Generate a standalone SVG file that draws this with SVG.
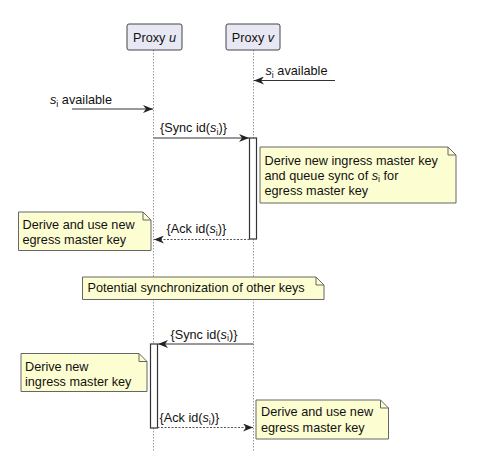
<svg xmlns="http://www.w3.org/2000/svg" width="481" height="452" viewBox="0 0 481 452">
<defs>
<style>
text{font-family:"Liberation Sans",Arial,sans-serif;font-size:12.7px;fill:#111}
.it{font-style:italic}
.sub{font-size:9px}
.life{stroke:#999;stroke-width:1;stroke-dasharray:1.5,1.5;fill:none}
.part{fill:#e8e8f4;stroke:#444;stroke-width:1}
.note{fill:#fdfdd2;stroke:#666;stroke-width:1}
.fold{fill:none;stroke:#666;stroke-width:1}
.act{fill:#fff;stroke:#333;stroke-width:1.2}
.msg{stroke:#333;stroke-width:1;fill:none}
.dash{stroke:#555;stroke-width:1;stroke-dasharray:2,1.5;fill:none}
</style>
<marker id="ah" viewBox="0 0 10 8" refX="10" refY="4" markerWidth="10" markerHeight="8" markerUnits="userSpaceOnUse" orient="auto">
<path d="M0,0 L10,4 L0,8 L3,4 Z" fill="#222"/>
</marker>
</defs>
<g id="lifelines">
<line class="life" x1="153.5" y1="50" x2="153.5" y2="452"/>
<line class="life" x1="253.5" y1="50" x2="253.5" y2="452"/>
</g>
<g id="proxy-u">
<rect class="part" x="127" y="24" width="55" height="26" rx="2"/>
<text x="154.5" y="42" text-anchor="middle">Proxy <tspan class="it">u</tspan></text>
</g>
<g id="proxy-v">
<rect class="part" x="226" y="24" width="54" height="26" rx="2"/>
<text x="253" y="42" text-anchor="middle">Proxy <tspan class="it">v</tspan></text>
</g>
<g id="activation-v">
<rect class="act" x="249.5" y="138" width="7" height="101"/>
</g>
<g id="activation-u">
<rect class="act" x="150.5" y="344" width="7" height="84"/>
</g>
<g id="connectors">
<line class="msg" x1="335" y1="80.5" x2="254" y2="80.5" marker-end="url(#ah)"/>
<line class="msg" x1="72" y1="109" x2="153" y2="109" marker-end="url(#ah)"/>
<line class="msg" x1="153.5" y1="138" x2="249" y2="138" marker-end="url(#ah)"/>
<line class="dash" x1="249.5" y1="239.5" x2="154" y2="239.5" marker-end="url(#ah)"/>
<line class="msg" x1="253.5" y1="344" x2="158" y2="344" marker-end="url(#ah)"/>
<line class="dash" x1="157.5" y1="427.5" x2="253" y2="427.5" marker-end="url(#ah)"/>
</g>
<g id="labels">
<text x="265.5" y="75"><tspan class="it">s</tspan><tspan class="sub" dy="2.5">i</tspan><tspan dy="-2.5"> available</tspan></text>
<text x="50" y="104"><tspan class="it">s</tspan><tspan class="sub" dy="2.5">i</tspan><tspan dy="-2.5"> available</tspan></text>
<text x="160" y="132">{Sync id(<tspan class="it">s</tspan><tspan class="sub" dy="2.5">i</tspan><tspan dy="-2.5">)}</tspan></text>
<text x="166.5" y="233">{Ack id(<tspan class="it">s</tspan><tspan class="sub" dy="2.5">i</tspan><tspan dy="-2.5">)}</tspan></text>
<text x="170.5" y="338.5">{Sync id(<tspan class="it">s</tspan><tspan class="sub" dy="2.5">i</tspan><tspan dy="-2.5">)}</tspan></text>
<text x="159.5" y="422">{Ack id(<tspan class="it">s</tspan><tspan class="sub" dy="2.5">i</tspan><tspan dy="-2.5">)}</tspan></text>
</g>
<g id="note-v-ingress">
<path class="note" d="M260,147 H448 L456,155 V203 H260 Z"/>
<path class="fold" d="M448,147 V155 H456"/>
<text x="264.5" y="164.5">Derive new ingress master key</text>
<text x="264.5" y="179.5">and queue sync of <tspan class="it">s</tspan><tspan class="sub" dy="2.5">i</tspan><tspan dy="-2.5"> for</tspan></text>
<text x="264.5" y="194.5">egress master key</text>
</g>
<g id="note-u-egress">
<path class="note" d="M18.5,212 H143 L151,220 V250.5 H18.5 Z"/>
<path class="fold" d="M143,212 V220 H151"/>
<text x="22.5" y="228.5">Derive and use new</text>
<text x="22.5" y="243.5">egress master key</text>
</g>
<g id="note-other-keys">
<path class="note" d="M82.5,277 H316 L324,285 V299.5 H82.5 Z"/>
<path class="fold" d="M316,277 V285 H324"/>
<text x="87.5" y="292">Potential synchronization of other keys</text>
</g>
<g id="note-u-ingress">
<path class="note" d="M21,353.5 H139 L147,361.5 V391.5 H21 Z"/>
<path class="fold" d="M139,353.5 V361.5 H147"/>
<text x="25" y="370.5">Derive new</text>
<text x="25" y="385.5">ingress master key</text>
</g>
<g id="note-v-egress">
<path class="note" d="M256,400 H380.5 L388.5,408 V439 H256 Z"/>
<path class="fold" d="M380.5,400 V408 H388.5"/>
<text x="261" y="416">Derive and use new</text>
<text x="261" y="432">egress master key</text>
</g>
</svg>
